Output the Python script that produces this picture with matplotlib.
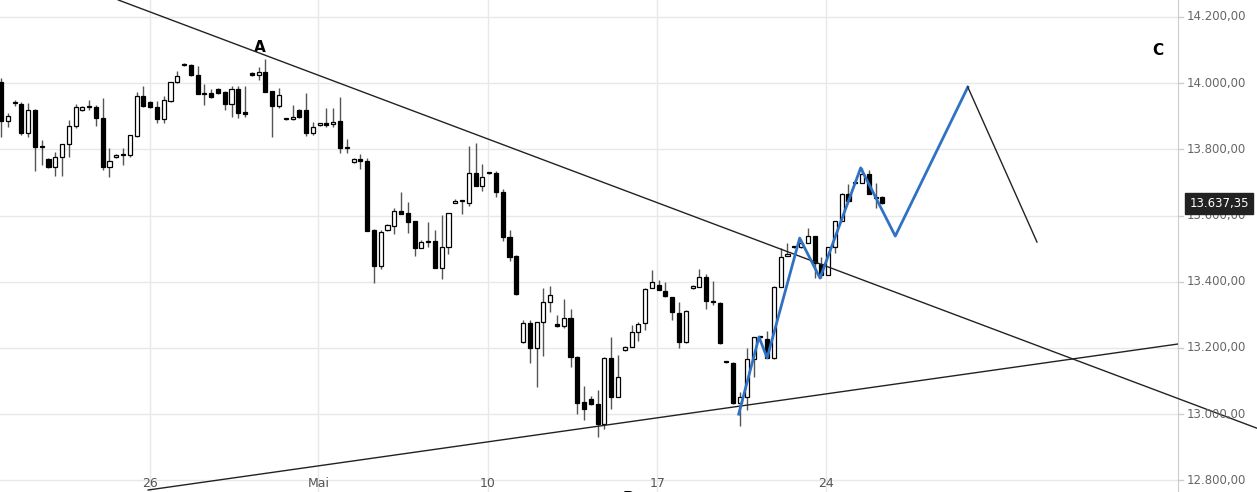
import matplotlib
matplotlib.use("Agg")
import matplotlib.pyplot as plt
import numpy as np

# OHLC candles (hourly-ish)
opens = [14003,13886,13940,13937,13850,13919,13807,13771,13747,13777,13816,13870,13919,13928,13928,13895,13747,13777,13783,13783,
         13840,13961,13943,13928,13892,13946,14003,14055,14055,14024,13967,13970,13982,13973,13937,13982,13913,14030,14024,14033,
         13976,13931,13892,13892,13919,13919,13850,13874,13877,13877,13886,13804,13762,13771,13765,13556,13448,13556,13568,13614,
         13608,13584,13502,13520,13523,13442,13505,13638,13644,13638,13729,13689,13729,13729,13671,13535,13478,13218,13276,13200,
         13279,13339,13273,13267,13291,13173,13037,13046,13031,12971,13170,13052,13194,13203,13248,13276,13381,13390,13372,13354,
         13306,13218,13381,13384,13414,13339,13336,13158,13155,13034,13052,13167,13233,13227,13170,13384,13478,13505,13505,13517,
         13538,13454,13421,13505,13584,13665,13698,13698,13726,13653,13656]
highs = [14015,13910,13950,13943,13940,13922,13828,13774,13792,13816,13889,13937,13931,13949,13934,13955,13804,13786,13804,13843,
         13973,13991,13946,13946,13961,14003,14036,14060,14058,14052,13997,13982,13985,13976,13991,13991,13991,14033,14049,14073,
         13976,13985,13895,13934,13922,13970,13883,13877,13925,13925,13958,13831,13774,13786,13774,13559,13556,13574,13623,13671,
         13641,13584,13526,13581,13556,13602,13608,13650,13647,13810,13819,13756,13732,13735,13680,13556,13481,13285,13285,13279,
         13381,13387,13300,13348,13318,13176,13085,13055,13073,13173,13233,13179,13206,13270,13279,13381,13436,13405,13399,13354,
         13339,13315,13390,13439,13424,13402,13339,13161,13158,13067,13200,13233,13236,13251,13387,13502,13517,13508,13520,13562,
         13538,13475,13505,13584,13668,13695,13701,13744,13738,13698,13659]
lows = [13837,13868,13931,13843,13837,13735,13753,13744,13720,13720,13777,13864,13916,13919,13870,13738,13717,13774,13753,13777,
        13837,13928,13925,13880,13880,13943,14000,14052,14021,13967,13934,13955,13967,13919,13898,13895,13898,14021,14009,13973,
        13837,13925,13889,13889,13895,13840,13843,13871,13868,13868,13789,13789,13759,13741,13553,13396,13439,13553,13544,13605,
        13547,13478,13502,13505,13442,13409,13484,13638,13605,13629,13689,13674,13726,13656,13523,13463,13360,13215,13155,13082,
        13176,13309,13263,13260,13143,13001,12983,13028,12931,12955,13016,13052,13191,13203,13221,13254,13381,13375,13354,13285,
        13200,13215,13378,13384,13318,13330,13212,13155,13031,12964,13013,13113,13227,13170,13167,13384,13478,13502,13502,13517,
        13412,13412,13421,13487,13584,13644,13695,13698,13665,13623,13635]
closes = [13886,13901,13940,13850,13919,13807,13807,13747,13777,13816,13870,13928,13928,13928,13895,13747,13765,13783,13783,13843,
          13961,13931,13928,13892,13949,14003,14021,14055,14024,13967,13967,13958,13970,13937,13982,13910,13907,14024,14033,13973,
          13931,13964,13892,13898,13898,13850,13868,13874,13874,13883,13804,13804,13771,13765,13553,13448,13550,13571,13614,13605,
          13581,13502,13520,13520,13442,13505,13608,13644,13644,13729,13689,13716,13729,13671,13535,13475,13363,13276,13200,13279,
          13339,13360,13267,13291,13173,13034,13016,13031,12971,13170,13052,13113,13203,13248,13273,13378,13399,13375,13357,13309,
          13218,13312,13387,13414,13342,13339,13215,13158,13034,13052,13167,13233,13233,13170,13384,13475,13484,13505,13517,13538,
          13457,13421,13505,13584,13665,13644,13698,13726,13665,13653,13638]

date_labels = ["26", "Mai", "10", "17", "24"]
date_pos = [22.0, 46.8, 71.8, 96.8, 121.7]
price_ticks = [12800, 13000, 13200, 13400, 13600, 13800, 14000, 14200]

# drawn trend lines and the projected wave path
upper_line = ([17.3, 185.2], [14251, 12958])
lower_line = ([21.7, 173.6], [12771, 13212])
wave_x = [108.8, 111.8, 113.0, 117.8, 120.8, 126.8, 131.9, 142.6]
wave_y = [13000, 13233, 13170, 13532, 13411, 13744, 13538, 13988]
proj_x = [142.6, 152.8]
proj_y = [13988, 13520]
last_price = 13637.35


def de_fmt(v):
    s = f"{v:,.2f}"
    return s.replace(",", "X").replace(".", ",").replace("X", ".")


fig = plt.figure(figsize=(12.57, 4.92), dpi=100)
ax = fig.add_axes([0, 0, 1178 / 1257, 1])
ax.set_xlim(-0.15, 173.6)
ax.set_ylim(12765, 14251)

for p in price_ticks:
    ax.axhline(p, color="#e8e8e8", lw=1, zorder=0)
for d in date_pos:
    ax.axvline(d, color="#e8e8e8", lw=1, zorder=0)

x = np.arange(len(opens))
o = np.array(opens); c = np.array(closes)
ax.vlines(x, lows, highs, color="#555555", lw=1, zorder=2)
up = c >= o
bottom = np.minimum(o, c)
height = np.maximum(np.abs(c - o), 4)
ax.bar(x[up], height[up], bottom=bottom[up], width=0.6, color="white",
       edgecolor="black", lw=0.9, zorder=3)
ax.bar(x[~up], height[~up], bottom=bottom[~up], width=0.6, color="black",
       edgecolor="black", lw=0.9, zorder=3)

ax.plot(*upper_line, color="#222222", lw=1, zorder=4, clip_on=False)
ax.plot(*lower_line, color="#222222", lw=1, zorder=4)
ax.plot(wave_x, wave_y, color="#2f72c4", lw=2, zorder=5)
ax.plot(proj_x, proj_y, color="#222222", lw=1, zorder=5)

ax.text(38.1, 14109, "A", fontsize=11, fontweight="bold", ha="center", va="center")
ax.text(170.6, 14097, "C", fontsize=11, fontweight="bold", ha="center", va="center")
ax.text(92.6, 12745, "B", fontsize=11, fontweight="bold", ha="center", va="center", clip_on=True)

for lab, d in zip(date_labels, date_pos):
    ax.text(d, 12790, lab, fontsize=9, color="#555555", ha="center", va="center")

ax.set_xticks([]); ax.set_yticks([])
for s in ["top", "left", "bottom"]:
    ax.spines[s].set_visible(False)
ax.spines["right"].set_color("#cccccc")

# right price scale
for p in price_ticks:
    y = (p - 12765) / (14251 - 12765)
    fig.text(1187 / 1257, y, de_fmt(p), fontsize=8.5, color="#666666", va="center")
    fig.add_artist(plt.Line2D([1178 / 1257, 1183 / 1257], [y, y], color="#cccccc", lw=1))
yl = (last_price - 12765) / (14251 - 12765)
fig.text(1219 / 1257, yl, de_fmt(last_price), fontsize=8.5, color="white", ha="center", va="center",
         bbox=dict(boxstyle="square,pad=0.35", fc="#222222", ec="#222222"))

fig.savefig("out.png", dpi=100)
